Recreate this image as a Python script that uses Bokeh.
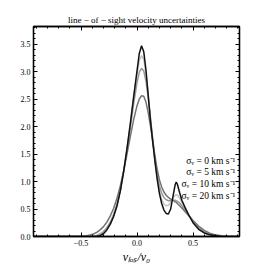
from bokeh.plotting import figure
from bokeh.models import Range1d, LinearAxis, SingleIntervalTicker, CustomJSTickFormatter, Label
from bokeh.embed import file_html
from bokeh.resources import INLINE

# velocity grid (v_los / v0)
v = [-0.92, -0.6, -0.5, -0.45, -0.42, -0.39, -0.36, -0.33, -0.30, -0.27, -0.24, -0.21, -0.18,
     -0.15, -0.12, -0.09, -0.06, -0.03, 0.00, 0.02, 0.04, 0.06, 0.08, 0.10, 0.12, 0.14, 0.16,
     0.18, 0.20, 0.22, 0.24, 0.26, 0.28, 0.30, 0.32, 0.34, 0.35, 0.36, 0.38, 0.40, 0.43, 0.46,
     0.50, 0.55, 0.60, 0.65, 0.70, 0.75, 0.80, 0.85, 0.92]

pdf_s0 = [0, 0, 0, 0, 0, 0.0, 0.003, 0.015, 0.05, 0.12, 0.22, 0.36, 0.55,
          0.82, 1.18, 1.60, 2.06, 2.55, 3.02, 3.33, 3.47, 3.36, 3.02, 2.56, 2.10, 1.72, 1.36,
          1.04, 0.78, 0.60, 0.48, 0.42, 0.41, 0.50, 0.72, 0.94, 0.99, 0.95, 0.80, 0.66, 0.52, 0.40,
          0.25, 0.13, 0.065, 0.03, 0.014, 0.006, 0.002, 0.0, 0]

pdf_s5 = [0, 0, 0, 0, 0, 0.002, 0.008, 0.025, 0.06, 0.13, 0.23, 0.37, 0.56,
          0.83, 1.18, 1.59, 2.04, 2.52, 2.95, 3.20, 3.29, 3.22, 2.96, 2.57, 2.14, 1.74, 1.38,
          1.07, 0.83, 0.67, 0.59, 0.56, 0.57, 0.62, 0.70, 0.75, 0.76, 0.75, 0.70, 0.62, 0.51, 0.40,
          0.26, 0.14, 0.07, 0.035, 0.016, 0.007, 0.003, 0.001, 0]

pdf_s10 = [0, 0, 0, 0.001, 0.003, 0.008, 0.02, 0.045, 0.09, 0.16, 0.26, 0.40, 0.58,
           0.84, 1.17, 1.56, 1.98, 2.42, 2.80, 2.99, 3.06, 3.01, 2.82, 2.52, 2.15, 1.77, 1.42,
           1.13, 0.92, 0.79, 0.71, 0.67, 0.65, 0.65, 0.66, 0.66, 0.65, 0.64, 0.61, 0.56, 0.48, 0.39,
           0.28, 0.16, 0.085, 0.042, 0.02, 0.009, 0.004, 0.001, 0]

pdf_s20 = [0, 0.001, 0.006, 0.015, 0.027, 0.045, 0.075, 0.12, 0.18, 0.26, 0.37, 0.51, 0.69,
           0.92, 1.19, 1.50, 1.82, 2.13, 2.38, 2.50, 2.56, 2.55, 2.44, 2.25, 2.01, 1.74, 1.46,
           1.22, 1.03, 0.90, 0.81, 0.75, 0.71, 0.68, 0.66, 0.63, 0.62, 0.60, 0.56, 0.52, 0.45, 0.38,
           0.29, 0.19, 0.11, 0.06, 0.03, 0.013, 0.005, 0.002, 0]

sigmas = [0, 5, 10, 20]
colors = ["#c4c4c4", "#999999", "#747474", "#111111"]
series = [pdf_s5, pdf_s10, pdf_s20, pdf_s0]

SERIF = "Liberation Serif"

p = figure(width=266, height=266, output_backend="svg", toolbar_location=None,
           x_range=Range1d(-0.925, 0.915), y_range=Range1d(0, 3.82),
           min_border_left=33, min_border_right=27, min_border_top=26, min_border_bottom=27,
           title="line \u2212 of \u2212 sight velocity uncertainties")
p.title.align = "center"
p.title.text_font = SERIF
p.title.text_font_style = "normal"
p.title.text_font_size = "9px"
p.title.text_color = "black"
p.title.standoff = 3
p.grid.visible = False
p.outline_line_color = "black"
p.outline_line_width = 1.3
p.background_fill_color = "white"
p.border_fill_color = "white"

for ys, c in zip(series, colors):
    p.line(v, ys, line_color=c, line_width=1.5)

fmt = CustomJSTickFormatter(code="return tick.toFixed(1).replace('-', '\u2212');")
blank = CustomJSTickFormatter(code="return '';")

bottom = p.below[0]
left = p.left[0]
bottom.ticker = SingleIntervalTicker(interval=0.5, num_minor_ticks=5)
left.ticker = SingleIntervalTicker(interval=0.5, num_minor_ticks=5)
bottom.formatter = fmt
left.formatter = fmt
bottom.axis_label = "v\u2097\u2092\u209b/v\u2080"
bottom.axis_label_text_font = SERIF
bottom.axis_label_text_font_style = "italic"
bottom.axis_label_text_font_size = "12px"
bottom.axis_label_text_color = "black"
bottom.axis_label_standoff = 1

top = LinearAxis(ticker=SingleIntervalTicker(interval=0.5, num_minor_ticks=5), formatter=blank)
right = LinearAxis(ticker=SingleIntervalTicker(interval=0.5, num_minor_ticks=5), formatter=blank)
p.add_layout(top, "above")
p.add_layout(right, "right")

for ax in [bottom, left, top, right]:
    ax.major_tick_in = 4
    ax.major_tick_out = 0
    ax.minor_tick_in = 2
    ax.minor_tick_out = 0
    ax.axis_line_width = 1.3
    ax.axis_line_color = "black"
    ax.major_tick_line_color = "black"
    ax.minor_tick_line_color = "black"
    ax.major_tick_line_width = 1
    ax.major_label_text_font = SERIF
    ax.major_label_text_font_size = "8px"
    ax.major_label_text_color = "black"
    ax.major_label_standoff = 3

for ax in [top, right]:
    ax.major_label_text_color = None
    ax.major_label_standoff = 0

# legend text (labels only, as in the original)
leg_y = [1.38, 1.17, 0.95, 0.73]
for s, yy in zip(sigmas, leg_y):
    p.add_layout(Label(x=0.878, y=yy, text=f"\u03c3\u1d65 = {s} km s\u207b\u00b9",
                       text_align="right", text_baseline="middle",
                       text_font=SERIF, text_font_size="9.5px", text_color="black"))

open("out.html", "w").write(file_html(p, INLINE))
